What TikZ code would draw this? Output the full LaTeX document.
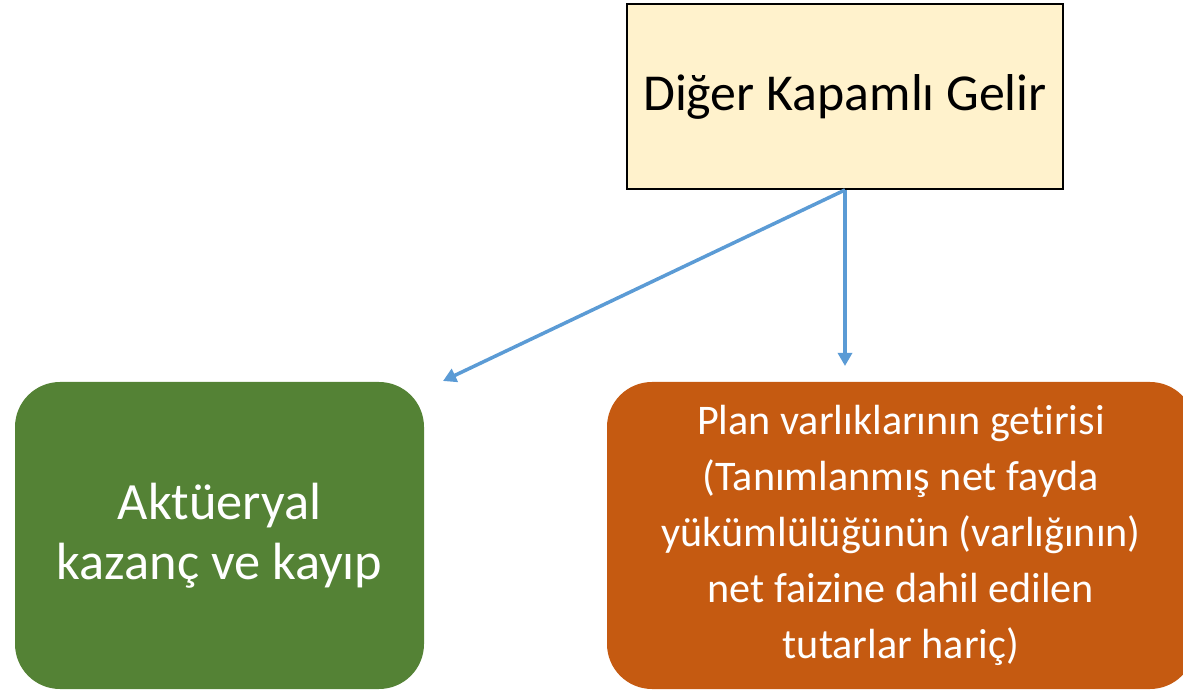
\documentclass[tikz,border=0pt]{standalone}
\usepackage{fontspec}
\setmainfont[Ligatures={NoCommon}]{Carlito}
\usepackage{xcolor}
\usepackage{tikz}
\usetikzlibrary{arrows.meta}

\definecolor{kutusari}{HTML}{FFF2CC}
\definecolor{aktyesil}{HTML}{548235}
\definecolor{plaunturuncu}{HTML}{C55A11}
\definecolor{okmavi}{HTML}{5B9BD5}

\tikzset{
  baslik/.style={draw=black,line width=1.1pt,fill=kutusari,inner sep=0pt,
    minimum width=8.72cm,minimum height=3.7cm,font=\fontsize{29.5}{34}\selectfont},
  kalem/.style={rounded corners=0.9cm,inner sep=0pt,minimum height=6.14cm,
    text=white,align=center},
  ok/.style={-{Triangle[width=8pt,length=7.5pt]},okmavi,line width=2pt}
}

\begin{document}
\begin{tikzpicture}[>=Latex]
\useasboundingbox (0,0) rectangle (23.66,13.82);
\clip (0,0) rectangle (23.66,13.82);
% --- top box ---
\node[baslik] (dkg) at (16.9,11.89) {Diğer Kapamlı Gelir};
% --- two items ---
\node[kalem,fill=aktyesil,minimum width=8.18cm,
  font=\fontsize{29.8}{34}\selectfont] (aktu) at (4.39,3.11)
  {Aktüeryal\\kazanç ve kayıp};
% right edge runs past the page
\node[kalem,fill=plaunturuncu,minimum width=11.76cm,
  font=\fontsize{24}{31.8}\selectfont] (plan) at (18.02,3.11)
  {Plan varlıklarının getirisi\\(Tanımlanmış net fayda\\yükümlülüğünün (varlığının)\\net faizine dahil edilen\\tutarlar hariç)};
% arrows stop short of the boxes
\coordinate (uc1) at (8.86,6.2);
\coordinate (uc2) at (16.9,6.5);
\draw[ok] (dkg.south) -- (uc1);
\draw[ok] (dkg.south) -- (uc2);
\end{tikzpicture}
\end{document}
